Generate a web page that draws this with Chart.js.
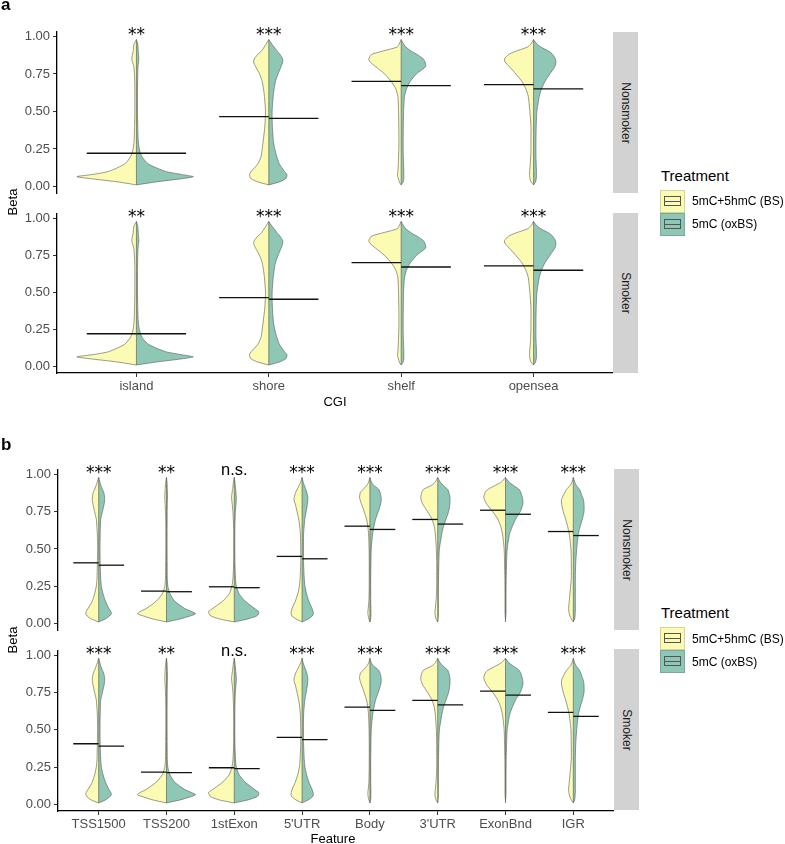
<!DOCTYPE html>
<html>
<head>
<meta charset="utf-8">
<script src="https://cdn.jsdelivr.net/npm/chart.js@4.4.1/dist/chart.umd.min.js"></script>
<style>
  body { margin: 0; background: #fff; font-family: "Liberation Sans", Arial, sans-serif; }
  #fig { position: relative; width: 785px; height: 844px; overflow: hidden; }
  canvas { position: absolute; }
  .txt { position: absolute; white-space: nowrap; color: #000; }
  .rot { transform: translate(-50%, -50%) rotate(-90deg); }
  .strip { position: absolute; background: #d2d2d2; width: 25px; }
  .strip span { position: absolute; left: 50%; top: 50%; transform: translate(-50%, -50%) rotate(90deg);
                white-space: nowrap; font-size: 12px; color: #1a1a1a; }
  .key { position: absolute; width: 25px; height: 23px; box-sizing: border-box; border: 1px solid rgba(0,0,0,0.15); }
  .key .inner { position: absolute; left: 3px; right: 3px; top: 5px; bottom: 6px; border: 1px solid #555; }
  .key .inner::after { content: ''; position: absolute; left: 0; right: 0; top: 50%; border-top: 1px solid #555; }
</style>
</head>
<body>
<div id="fig">
  <canvas id="a1"></canvas>
  <canvas id="a2"></canvas>
  <canvas id="b1"></canvas>
  <canvas id="b2"></canvas>

  <div class="txt" style="left:1px;top:-5px;font-size:17px;font-weight:bold;">a</div>
  <div class="txt" style="left:1px;top:435px;font-size:17px;font-weight:bold;">b</div>

  <div class="txt rot" style="left:12px;top:202px;font-size:13px;">Beta</div>
  <div class="txt rot" style="left:12px;top:640px;font-size:13px;">Beta</div>
  <div class="txt" style="left:335px;top:401px;font-size:13px;transform:translate(-50%,-50%);">CGI</div>
  <div class="txt" style="left:333px;top:838px;font-size:13px;transform:translate(-50%,-50%);">Feature</div>

  <div class="strip" style="left:613px;top:32px;height:161px;"><span>Nonsmoker</span></div>
  <div class="strip" style="left:613px;top:213px;height:160px;"><span>Smoker</span></div>
  <div class="strip" style="left:614px;top:469px;height:161px;"><span>Nonsmoker</span></div>
  <div class="strip" style="left:614px;top:649px;height:161px;"><span>Smoker</span></div>

  <div class="txt" style="left:661px;top:167px;font-size:15px;">Treatment</div>
  <div class="key" style="left:660px;top:190px;background:#FBFBB3;"><div class="inner"></div></div>
  <div class="key" style="left:660px;top:213px;background:#8EC7B5;"><div class="inner"></div></div>
  <div class="txt" style="left:692px;top:194px;font-size:12px;">5mC+5hmC (BS)</div>
  <div class="txt" style="left:692px;top:217px;font-size:12px;">5mC (oxBS)</div>

  <div class="txt" style="left:661px;top:604px;font-size:15px;">Treatment</div>
  <div class="key" style="left:660px;top:627px;background:#FBFBB3;"><div class="inner"></div></div>
  <div class="key" style="left:660px;top:650px;background:#8EC7B5;"><div class="inner"></div></div>
  <div class="txt" style="left:692px;top:632px;font-size:12px;">5mC+5hmC (BS)</div>
  <div class="txt" style="left:692px;top:655px;font-size:12px;">5mC (oxBS)</div>
</div>

<script>
const cgiCats = ['island', 'shore', 'shelf', 'opensea'];
const featCats = ['TSS1500', 'TSS200', '1stExon', "5'UTR", 'Body', "3'UTR", 'ExonBnd', 'IGR'];
const yTicks = [0, 0.25, 0.5, 0.75, 1];

// beta values at which the violin half-widths were read
const betaGrid = [0.01, 0.03, 0.05, 0.065, 0.08, 0.1, 0.15, 0.2, 0.25, 0.3, 0.4, 0.5,
                  0.6, 0.65, 0.7, 0.75, 0.8, 0.83, 0.85, 0.88, 0.9, 0.93, 0.95, 0.98];

// half-widths (category units), BS = left/yellow, oxBS = right/teal
const cgiBS = [
  [0, 0.14, 0.33, 0.45, 0.33, 0.21, 0.088, 0.043, 0.025, 0.018, 0.014, 0.012, 0.012, 0.012, 0.013, 0.015, 0.02, 0.03, 0.035, 0.03, 0.025, 0.022, 0.018, 0], // island
  [0, 0.083, 0.133, 0.143, 0.146, 0.133, 0.083, 0.058, 0.05, 0.043, 0.03, 0.025, 0.033, 0.04, 0.05, 0.07, 0.1, 0.115, 0.11, 0.085, 0.058, 0.035, 0.02, 0], // shore
  [0, 0.015, 0.02, 0.026, 0.028, 0.025, 0.022, 0.02, 0.018, 0.017, 0.018, 0.02, 0.025, 0.04, 0.075, 0.125, 0.195, 0.235, 0.245, 0.225, 0.15, 0.03, 0.015, 0], // shelf
  [0, 0.02, 0.027, 0.03, 0.03, 0.03, 0.025, 0.022, 0.02, 0.02, 0.02, 0.028, 0.04, 0.058, 0.088, 0.134, 0.184, 0.215, 0.22, 0.19, 0.14, 0.045, 0.02, 0]  // opensea
];
const cgiOx = [
  [0, 0.15, 0.33, 0.43, 0.34, 0.22, 0.09, 0.04, 0.022, 0.014, 0.01, 0.008, 0.008, 0.008, 0.009, 0.01, 0.012, 0.016, 0.018, 0.016, 0.014, 0.012, 0.01, 0],
  [0, 0.08, 0.126, 0.135, 0.137, 0.118, 0.08, 0.06, 0.045, 0.035, 0.027, 0.025, 0.033, 0.04, 0.05, 0.07, 0.093, 0.105, 0.105, 0.085, 0.065, 0.04, 0.022, 0],
  [0, 0.015, 0.02, 0.02, 0.02, 0.02, 0.018, 0.016, 0.015, 0.015, 0.016, 0.018, 0.025, 0.04, 0.068, 0.115, 0.185, 0.18, 0.168, 0.12, 0.08, 0.035, 0.018, 0],
  [0, 0.015, 0.02, 0.022, 0.022, 0.022, 0.02, 0.018, 0.018, 0.018, 0.02, 0.025, 0.043, 0.06, 0.086, 0.123, 0.161, 0.169, 0.165, 0.145, 0.118, 0.055, 0.025, 0]
];
const featBS = [
  [0, 0.11, 0.17, 0.19, 0.185, 0.158, 0.094, 0.06, 0.035, 0.025, 0.02, 0.015, 0.02, 0.027, 0.035, 0.06, 0.084, 0.094, 0.092, 0.08, 0.06, 0.035, 0.02, 0], // TSS1500
  [0, 0.2, 0.34, 0.43, 0.39, 0.3, 0.15, 0.06, 0.025, 0.015, 0.012, 0.01, 0.01, 0.01, 0.012, 0.015, 0.02, 0.024, 0.025, 0.022, 0.02, 0.015, 0.01, 0],    // TSS200
  [0, 0.22, 0.345, 0.37, 0.38, 0.32, 0.17, 0.074, 0.035, 0.02, 0.01, 0.008, 0.008, 0.01, 0.015, 0.02, 0.03, 0.038, 0.04, 0.032, 0.025, 0.018, 0.012, 0], // 1stExon
  [0, 0.09, 0.15, 0.163, 0.16, 0.148, 0.1, 0.064, 0.04, 0.03, 0.02, 0.02, 0.025, 0.035, 0.05, 0.074, 0.1, 0.12, 0.115, 0.095, 0.074, 0.04, 0.02, 0],    // 5'UTR
  [0, 0.015, 0.025, 0.03, 0.03, 0.025, 0.015, 0.012, 0.01, 0.01, 0.01, 0.012, 0.02, 0.03, 0.05, 0.084, 0.123, 0.145, 0.153, 0.14, 0.1, 0.04, 0.018, 0], // Body
  [0, 0.025, 0.035, 0.04, 0.04, 0.035, 0.025, 0.018, 0.015, 0.015, 0.015, 0.02, 0.035, 0.05, 0.084, 0.148, 0.22, 0.245, 0.25, 0.235, 0.21, 0.08, 0.035, 0], // 3'UTR
  [0, 0, 0.005, 0.007, 0.008, 0.008, 0.008, 0.008, 0.009, 0.01, 0.014, 0.02, 0.044, 0.07, 0.113, 0.187, 0.276, 0.31, 0.32, 0.3, 0.26, 0.138, 0.06, 0], // ExonBnd
  [0, 0.03, 0.05, 0.06, 0.065, 0.07, 0.06, 0.05, 0.04, 0.03, 0.03, 0.035, 0.06, 0.084, 0.113, 0.148, 0.172, 0.175, 0.158, 0.125, 0.1, 0.04, 0.02, 0]  // IGR
];
const featOx = [
  [0, 0.1, 0.16, 0.187, 0.18, 0.15, 0.1, 0.064, 0.04, 0.03, 0.022, 0.02, 0.022, 0.025, 0.03, 0.055, 0.08, 0.089, 0.087, 0.075, 0.055, 0.03, 0.018, 0],
  [0, 0.2, 0.35, 0.43, 0.37, 0.27, 0.12, 0.05, 0.02, 0.012, 0.01, 0.009, 0.009, 0.009, 0.01, 0.01, 0.012, 0.014, 0.015, 0.014, 0.012, 0.01, 0.008, 0],
  [0, 0.2, 0.33, 0.36, 0.36, 0.3, 0.16, 0.07, 0.03, 0.018, 0.01, 0.008, 0.008, 0.009, 0.012, 0.016, 0.025, 0.03, 0.03, 0.025, 0.02, 0.014, 0.01, 0],
  [0, 0.09, 0.15, 0.167, 0.163, 0.148, 0.1, 0.066, 0.042, 0.032, 0.022, 0.02, 0.022, 0.03, 0.04, 0.06, 0.078, 0.085, 0.084, 0.07, 0.055, 0.03, 0.015, 0],
  [0, 0.01, 0.015, 0.015, 0.015, 0.015, 0.012, 0.012, 0.012, 0.012, 0.015, 0.02, 0.04, 0.06, 0.084, 0.123, 0.158, 0.168, 0.165, 0.15, 0.13, 0.05, 0.02, 0],
  [0, 0.005, 0.01, 0.01, 0.01, 0.01, 0.01, 0.01, 0.011, 0.012, 0.016, 0.025, 0.06, 0.084, 0.123, 0.16, 0.18, 0.182, 0.18, 0.165, 0.148, 0.074, 0.035, 0],
  [0, 0, 0.005, 0.007, 0.008, 0.008, 0.008, 0.008, 0.009, 0.01, 0.015, 0.025, 0.06, 0.1, 0.148, 0.217, 0.256, 0.255, 0.246, 0.225, 0.2, 0.108, 0.05, 0],
  [0, 0.02, 0.025, 0.028, 0.03, 0.03, 0.03, 0.03, 0.03, 0.03, 0.035, 0.05, 0.074, 0.1, 0.133, 0.158, 0.158, 0.15, 0.133, 0.11, 0.09, 0.04, 0.02, 0]
];

// group means (horizontal bars)
const cgiMeanBS = [0.221, 0.465, 0.701, 0.679];
const cgiMeanOx = [0.221, 0.454, 0.672, 0.650];
const featMeanBS = [0.407, 0.217, 0.246, 0.450, 0.653, 0.698, 0.760, 0.617];
const featMeanOx = [0.391, 0.213, 0.240, 0.434, 0.631, 0.667, 0.733, 0.590];

// significance labels
const cgiSig = ['**', '***', '***', '***'];
const featSig = ['***', '**', 'n.s.', '***', '***', '***', '***', '***'];

const yellow = '#FBFBB3';
const teal = '#8EC7B5';
const outline = '#58584f';
const meanHalf = 0.375;

Chart.defaults.font.family = '"Liberation Sans", Arial, sans-serif';
Chart.defaults.color = '#4d4d4d';

// draws the significance stars above each violin
const sigLabels = {
  id: 'sigLabels',
  afterDatasetsDraw(chart, args, opts) {
    const { ctx } = chart;
    const x = chart.scales.x, y = chart.scales.y;
    ctx.save();
    ctx.fillStyle = '#000';
    ctx.textAlign = 'center';
    ctx.textBaseline = 'alphabetic';
    opts.labels.forEach((t, i) => {
      // stars look wider in the original, DejaVu gets closer
      ctx.font = t.includes('*') ? '17px "DejaVu Sans"' : '16.5px "Liberation Sans"';
      const base = y.getPixelForValue(opts.at) + (t.includes('*') ? 1 : -2);
      ctx.fillText(t, x.getPixelForValue(i + 1), base);
    });
    ctx.restore();
  }
};

function buildSets(bs, ox, meanBS, meanOx) {
  const sets = [];
  const last = betaGrid.length - 1;
  bs.forEach((w, i) => {
    const c = i + 1;
    const wo = ox[i];
    sets.push({
      data: betaGrid.map((b, k) => ({ x: c - w[k], y: b })),
      backgroundColor: yellow, borderColor: outline, borderWidth: 0.6,
      fill: 'shape', order: 3
    });
    sets.push({
      data: betaGrid.map((b, k) => ({ x: c + wo[k], y: b })),
      backgroundColor: teal, borderColor: outline, borderWidth: 0.6,
      fill: 'shape', order: 3
    });
    // split line down the middle, only where the violin exists
    let lo = 0, hi = last;
    while (lo < last && w[lo + 1] === 0 && wo[lo + 1] === 0) lo++;
    while (hi > 0 && w[hi - 1] === 0 && wo[hi - 1] === 0) hi--;
    sets.push({
      data: [{ x: c, y: betaGrid[lo] }, { x: c, y: betaGrid[hi] }],
      borderColor: outline, borderWidth: 0.7, fill: false, order: 2
    });
    sets.push({
      data: [{ x: c - meanHalf, y: meanBS[i] }, { x: c, y: meanBS[i] }],
      borderColor: '#111', borderWidth: 1.3, fill: false, order: 1
    });
    sets.push({
      data: [{ x: c, y: meanOx[i] }, { x: c + meanHalf, y: meanOx[i] }],
      borderColor: '#111', borderWidth: 1.3, fill: false, order: 1
    });
  });
  return sets;
}

function makeFacet(id, cfg) {
  const canvas = document.getElementById(id);
  canvas.width = cfg.width;
  canvas.height = cfg.height;
  canvas.style.left = '0px';
  canvas.style.top = cfg.top + 'px';
  canvas.style.width = cfg.width + 'px';
  canvas.style.height = cfg.height + 'px';

  const n = cfg.cats.length;
  return new Chart(canvas, {
    type: 'line',
    data: { datasets: buildSets(cfg.bs, cfg.ox, cfg.meanBS, cfg.meanOx) },
    options: {
      responsive: false,
      animation: false,
      layout: { padding: { top: cfg.padTop, bottom: cfg.padBottom, left: 0, right: 0 } },
      elements: { point: { radius: 0, hoverRadius: 0 }, line: { tension: 0.2 } },
      scales: {
        x: {
          type: 'linear',
          min: 0.4,
          max: n + 0.6,
          display: cfg.showX,
          afterBuildTicks: s => { s.ticks = cfg.cats.map((c, i) => ({ value: i + 1 })); },
          afterFit: s => { s.height = cfg.xAxisH || 0; },
          ticks: {
            autoSkip: false, maxRotation: 0, padding: 2,
            font: { size: 13 }, color: '#4d4d4d',
            callback: v => cfg.cats[v - 1]
          },
          grid: { drawOnChartArea: false, drawTicks: true, tickLength: 4, color: '#333' },
          border: { display: true, color: '#000', width: 1.3 }
        },
        y: {
          type: 'linear',
          min: -0.044,
          max: 1.03,
          afterBuildTicks: s => { s.ticks = yTicks.map(v => ({ value: v })); },
          afterFit: s => { s.width = cfg.yAxisW; },
          ticks: { padding: 3, font: { size: 13 }, color: '#4d4d4d', callback: v => v.toFixed(2) },
          grid: { drawOnChartArea: false, drawTicks: true, tickLength: 4, color: '#333' },
          border: { display: true, color: '#000', width: 1.3 }
        }
      },
      plugins: {
        legend: { display: false },
        tooltip: { enabled: false },
        sigLabels: { labels: cfg.sig, at: 0.985 }
      }
    },
    plugins: [sigLabels]
  });
}

const cgiFacet = { cats: cgiCats, bs: cgiBS, ox: cgiOx, meanBS: cgiMeanBS, meanOx: cgiMeanOx, sig: cgiSig, width: 613, yAxisW: 57 };
const featFacet = { cats: featCats, bs: featBS, ox: featOx, meanBS: featMeanBS, meanOx: featMeanOx, sig: featSig, width: 614, yAxisW: 58 };

// bottom padding of the top facets must exceed the y label overhang (~10.5px)
makeFacet('a1', { ...cgiFacet, top: 10, height: 195, padTop: 22, padBottom: 12, showX: false });
makeFacet('a2', { ...cgiFacet, top: 200, height: 197, padTop: 14, padBottom: 0, showX: true, xAxisH: 24 });
makeFacet('b1', { ...featFacet, top: 450, height: 192, padTop: 20, padBottom: 12, showX: false });
makeFacet('b2', { ...featFacet, top: 640, height: 193, padTop: 10, padBottom: 0, showX: true, xAxisH: 22 });
</script>
</body>
</html>
